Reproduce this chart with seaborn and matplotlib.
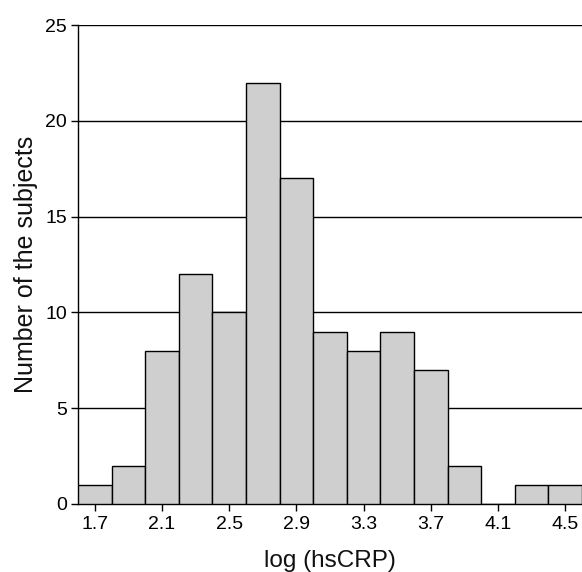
import numpy as np
import pandas as pd
import matplotlib
matplotlib.use("Agg")
import matplotlib.pyplot as plt
import seaborn as sns

# Data
bin_centers = [1.7, 1.9, 2.1, 2.3, 2.5, 2.7, 2.9, 3.1, 3.3, 3.5, 3.7, 3.9, 4.1, 4.3, 4.5]
counts      = [1,   2,   8,   12,  10,  22,  17,  9,   8,   9,   7,   2,   0,   1,   1]
x_ticks     = [1.7, 2.1, 2.5, 2.9, 3.3, 3.7, 4.1, 4.5]
y_ticks     = [0, 5, 10, 15, 20, 25]

sns.set_theme(style="white")
plt.rcParams['font.family'] = ['Liberation Sans', 'DejaVu Sans']

df = pd.DataFrame({"x": bin_centers, "n": counts})

fig = plt.figure(figsize=(5.82, 5.72), dpi=100)
ax = fig.add_axes([0.134, 0.119, 0.866, 0.837])

sns.histplot(data=df, x="x", weights="n", binwidth=0.2, binrange=(1.6, 4.6), ax=ax,
             color="#cfcfcf", alpha=1.0, edgecolor="black", linewidth=1.0, zorder=3)

ax.set_xlim(1.6, 4.6)
ax.set_ylim(0, 25)
ax.set_xticks(x_ticks)
ax.set_xticklabels([f"{v:.1f}" for v in x_ticks])
ax.set_yticks(y_ticks)

for y in y_ticks[1:]:
    ax.axhline(y, color="black", linewidth=1.0, zorder=1)

for s in ["top", "right"]:
    ax.spines[s].set_visible(False)
for s in ["left", "bottom"]:
    ax.spines[s].set_color("black")
    ax.spines[s].set_linewidth(1.0)

ax.tick_params(axis="both", which="major", direction="out", length=5, width=1,
               color="black", labelsize=14, labelcolor="black", bottom=True, left=True)
ax.tick_params(axis="y", pad=3)
ax.tick_params(axis="x", pad=4)

ax.set_xlabel("log (hsCRP)", fontsize=17.5, color="#111111", labelpad=12)
ax.set_ylabel("Number of the subjects", fontsize=18, color="#111111", labelpad=5)

fig.savefig("out.png", dpi=100)
